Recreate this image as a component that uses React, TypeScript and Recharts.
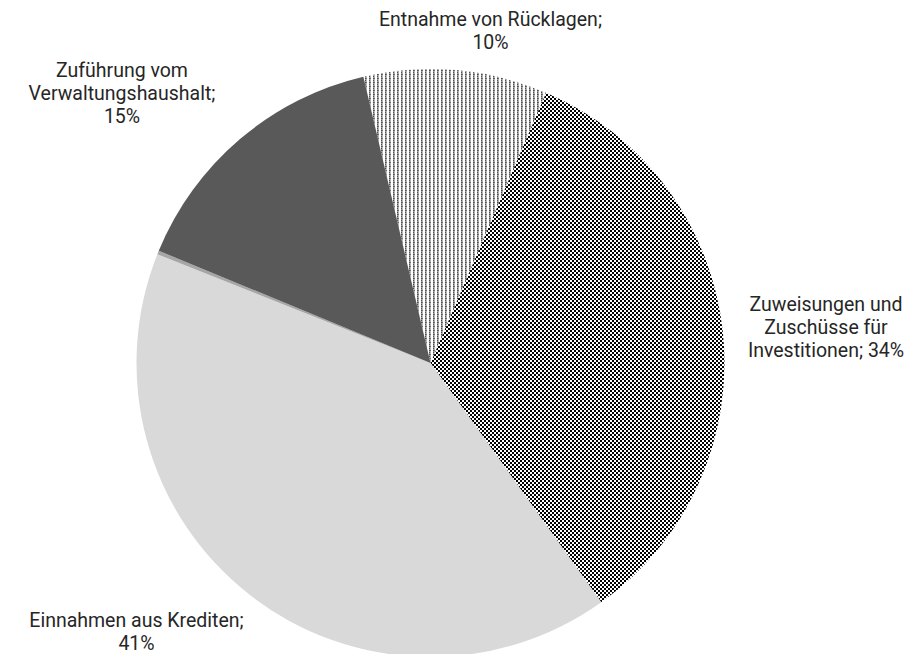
import React from 'react';
import { PieChart, Pie, Cell } from 'recharts';

const categories = [
  'Entnahme von Rücklagen',
  'Zuweisungen und Zuschüsse für Investitionen',
  'Einnahmen aus Krediten',
  'Sonstige',
  'Zuführung vom Verwaltungshaushalt',
];
const shares = [10.1, 33.7, 40.9, 0.2, 15.1];
const labelPercents = ['10%', '34%', '41%', '', '15%'];
const labelLines = [
  ['Entnahme von Rücklagen;', '10%'],
  ['Zuweisungen und', 'Zuschüsse für', 'Investitionen; 34%'],
  ['Einnahmen aus Krediten;', '41%'],
  [],
  ['Zuführung vom', 'Verwaltungshaushalt;', '15%'],
];

const data = categories.map((name, i) => ({ name, value: shares[i], pct: labelPercents[i] }));

// label placement (center x, first baseline y), Excel puts these by hand-ish
const labelAnchor = [
  [490.5, 26],
  [826, 311],
  [136.5, 627],
  [0, 0],
  [122, 77],
];

const fills = ['url(#dotStripes)', 'url(#checker)', '#d9d9d9', '#a6a6a6', '#595959'];

const renderLabel = (props: any) => {
  const i = props.index;
  const lines = labelLines[i];
  if (!lines || lines.length === 0) return null;
  const [x, y] = labelAnchor[i];
  return (
    <text
      x={x}
      y={y}
      textAnchor="middle"
      fill="#262626"
      fontSize={19.5}
      fontFamily="Roboto, 'Noto Sans', sans-serif"
    >
      {lines.map((l, k) => (
        <tspan key={k} x={x} dy={k === 0 ? 0 : 23}>
          {l}
        </tspan>
      ))}
    </text>
  );
};

const App: React.FC = () => {
  return (
    <div style={{ width: 910, height: 654, background: '#fff', overflow: 'hidden' }}>
      <style>{`body{margin:0}`}</style>
      <PieChart width={910} height={654} margin={{ top: 0, right: 0, bottom: 0, left: 0 }}>
        <defs>
          <pattern id="dotStripes" width="4" height="4" patternUnits="userSpaceOnUse">
            <rect width="4" height="4" fill="#ffffff" />
            <rect x="1" y="0" width="1" height="4" fill="#4d4d4d" />
            <rect x="1" y="1" width="1" height="1" fill="#9a9a9a" />
            <rect x="1" y="3" width="1" height="1" fill="#9a9a9a" />
            <rect x="2" y="0" width="1" height="4" fill="#b4b4b4" />
            <rect x="2" y="2" width="1" height="1" fill="#707070" />
          </pattern>
          <pattern id="checker" width="4" height="4" patternUnits="userSpaceOnUse">
            <rect width="4" height="4" fill="#ffffff" />
            <rect x="0" y="0" width="2" height="2" fill="#000000" />
            <rect x="2" y="2" width="2" height="2" fill="#000000" />
          </pattern>
        </defs>
        <Pie
          data={data}
          dataKey="value"
          nameKey="name"
          cx={430.5}
          cy={363}
          outerRadius={294}
          startAngle={103.2}
          endAngle={103.2 - 360}
          stroke="none"
          label={renderLabel}
          labelLine={false}
          isAnimationActive={false}
        >
          {data.map((d, i) => (
            <Cell key={d.name} fill={fills[i]} />
          ))}
        </Pie>
      </PieChart>
    </div>
  );
};

export default App;
